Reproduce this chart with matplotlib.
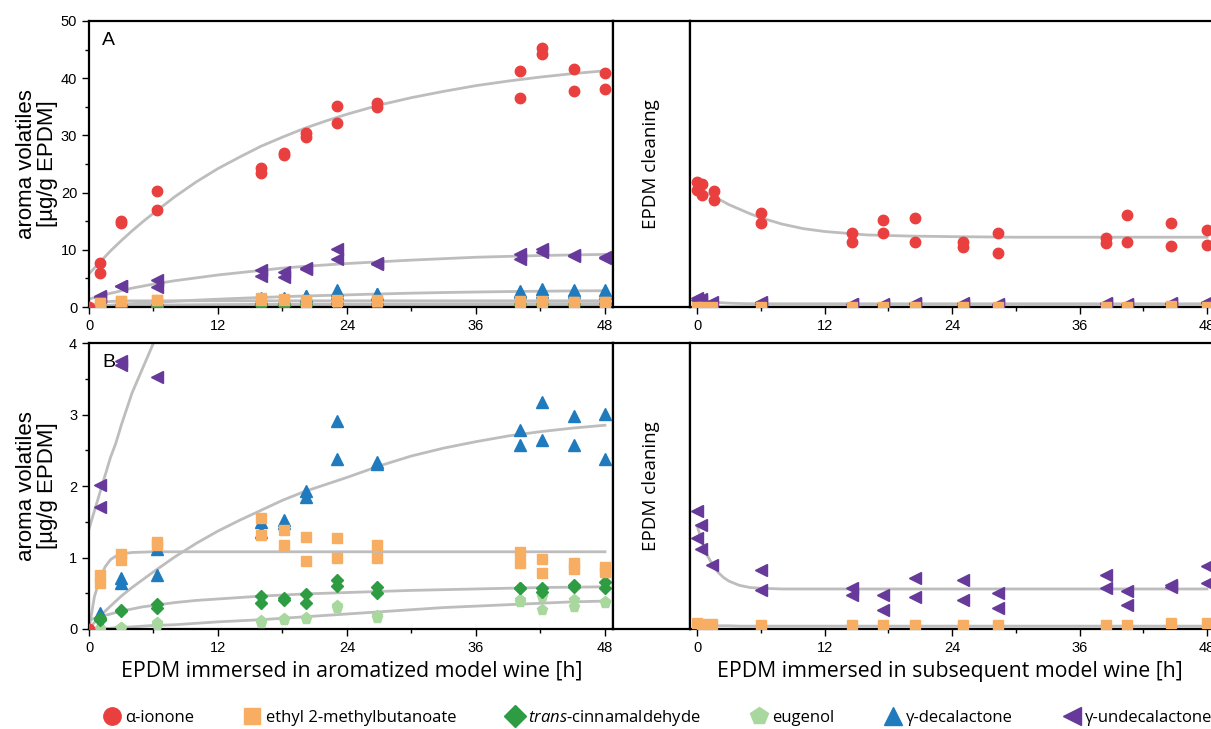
import numpy as np
import matplotlib
matplotlib.use("Agg")
from matplotlib import pyplot as plt
from matplotlib.ticker import MultipleLocator

plt.rcParams['font.family'] = ['Open Sans', 'DejaVu Sans']
plt.rcParams['mathtext.fontset'] = 'custom'
plt.rcParams['mathtext.it'] = 'Open Sans:italic'
plt.rcParams['mathtext.rm'] = 'Open Sans'

TICKFONT = ['Liberation Sans Narrow', 'Liberation Sans', 'DejaVu Sans']
GREY = '#BDBDBD'

# ---- uptake phase (EPDM in aromatized model wine) ----
t_up = [1, 1, 3, 3, 6.3, 6.3, 16, 16, 18.1, 18.1, 20.2, 20.2,
        23.1, 23.1, 26.8, 26.8, 40.1, 40.1, 42.1, 42.1, 45.1, 45.1, 48, 48]

ionone_up_t = [0] + t_up
ionone_up = [0, 7.7, 6.0, 15.0, 14.7, 20.3, 16.9, 24.3, 23.5, 27.0, 26.5, 30.5, 29.7,
             35.2, 32.2, 35.6, 34.9, 41.3, 36.5, 45.2, 44.2, 41.6, 37.8, 40.9, 38.1]
ethyl_up = [0.75, 0.64, 1.05, 0.97, 1.22, 1.18, 1.55, 1.31, 1.39, 1.17, 1.28, 0.95,
            1.27, 1.00, 1.17, 0.99, 1.07, 0.93, 0.98, 0.79, 0.92, 0.84, 0.87, 0.80]
cinnam_up = [0.16, 0.12, 0.27, 0.25, 0.35, 0.29, 0.46, 0.37, 0.43, 0.41, 0.49, 0.37,
             0.69, 0.60, 0.59, 0.50, 0.58, 0.57, 0.58, 0.52, 0.61, 0.59, 0.66, 0.57]
eugenol_up = [0.0, 0.0, 0.02, 0.01, 0.08, 0.06, 0.11, 0.09, 0.14, 0.13, 0.16, 0.14,
              0.32, 0.30, 0.18, 0.15, 0.41, 0.38, 0.45, 0.27, 0.40, 0.31, 0.38, 0.36]
decal_up = [0.22, 0.06, 0.71, 0.64, 1.12, 0.75, 1.50, 1.36, 1.52, 1.48, 1.93, 1.85,
            2.91, 2.38, 2.34, 2.31, 2.78, 2.57, 3.18, 2.65, 2.98, 2.57, 3.01, 2.38]
undecal_up = [2.01, 1.70, 3.69, 3.75, 4.7, 3.52, 6.4, 5.5, 6.1, 5.2, 6.8, 6.6,
              10.2, 8.4, 7.7, 7.6, 9.3, 8.4, 10.2, 9.6, 9.0, 9.1, 8.7, 8.6]

# fitted curves, uptake
fit_t = [0, 0.5, 1, 1.5, 2, 2.5, 3, 4, 5, 6, 8, 10, 12, 14, 16, 18, 20, 22, 24,
         27, 30, 33, 36, 39, 42, 45, 48]
ionone_fit = [5.8, 6.8, 7.8, 8.8, 9.8, 10.7, 11.6, 13.3, 14.9, 16.4, 19.3, 21.9,
              24.2, 26.2, 28.1, 29.7, 31.2, 32.5, 33.7, 35.3, 36.6, 37.7, 38.7,
              39.5, 40.2, 40.8, 41.3]
undecal_fit = [1.4, 1.65, 1.9, 2.15, 2.4, 2.6, 2.85, 3.3, 3.65, 4.0, 4.6, 5.1,
               5.6, 6.0, 6.4, 6.8, 7.1, 7.35, 7.6, 7.9, 8.2, 8.45, 8.7, 8.85,
               9.0, 9.1, 9.2]
decal_fit = [0.0, 0.09, 0.17, 0.25, 0.32, 0.39, 0.46, 0.58, 0.69, 0.80, 1.01, 1.20,
             1.37, 1.52, 1.66, 1.80, 1.92, 2.02, 2.12, 2.28, 2.42, 2.53, 2.62,
             2.70, 2.76, 2.81, 2.85]
cinnam_fit = [0.12, 0.15, 0.17, 0.19, 0.21, 0.23, 0.25, 0.28, 0.31, 0.33, 0.37, 0.40,
              0.42, 0.44, 0.46, 0.475, 0.49, 0.50, 0.51, 0.525, 0.54, 0.55, 0.56,
              0.57, 0.58, 0.585, 0.59]
eugenol_fit = [0.0, 0.0, 0.01, 0.01, 0.01, 0.02, 0.02, 0.03, 0.04, 0.05, 0.06, 0.08,
               0.10, 0.115, 0.13, 0.15, 0.17, 0.19, 0.21, 0.24, 0.27, 0.30, 0.32,
               0.34, 0.36, 0.38, 0.39]
ethyl_fit_t = [0, 0.5, 1, 1.5, 2, 2.5, 3, 4, 6, 12, 24, 36, 48]
ethyl_fit = [0.0, 0.45, 0.70, 0.87, 0.97, 1.02, 1.05, 1.07, 1.08, 1.08, 1.08, 1.08, 1.08]

# ---- release phase (EPDM in subsequent model wine) ----
ionone_rel_t = [0, 0.5, 0, 0.5, 1.6, 1.6, 6, 6, 14.6, 14.6, 17.5, 17.5, 20.5, 20.5,
                25, 25, 28.3, 28.3, 38.5, 38.5, 40.5, 40.5, 44.6, 44.6, 48, 48]
ionone_rel = [21.8, 21.5, 20.4, 19.6, 20.3, 18.7, 16.4, 14.6, 13.0, 11.4, 15.2, 13.0,
              15.5, 11.4, 11.3, 10.5, 13.0, 9.4, 12.0, 11.2, 16.0, 11.4, 14.6, 10.7,
              13.5, 10.9]
undecal_rel_t = [0, 0.35, 0, 0.4, 1.4, 6, 6, 14.6, 14.6, 17.5, 17.5, 20.5, 20.5,
                 25, 25, 28.3, 28.3, 38.5, 38.5, 40.5, 40.5, 44.6, 44.6, 48, 48]
undecal_rel = [1.65, 1.45, 1.27, 1.12, 0.89, 0.82, 0.54, 0.58, 0.48, 0.48, 0.27,
               0.71, 0.45, 0.69, 0.41, 0.51, 0.29, 0.75, 0.57, 0.53, 0.34, 0.62,
               0.59, 0.88, 0.64]
ethyl_rel_t = [0, 0.5, 1.4, 6, 14.6, 17.5, 20.5, 25, 28.3, 38.5, 40.5, 44.6, 48]
ethyl_rel = [0.08, 0.07, 0.065, 0.05, 0.05, 0.05, 0.05, 0.05, 0.05, 0.05, 0.05,
             0.09, 0.08]

rel_fit_t = [0, 0.5, 1, 1.5, 2, 2.5, 3, 4, 5, 6, 8, 10, 12, 16, 20, 24, 30, 36, 42, 48]
ionone_rel_fit = [20.7, 20.2, 19.8, 19.4, 18.9, 18.4, 17.9, 17.1, 16.3, 15.6, 14.5,
                  13.7, 13.2, 12.6, 12.4, 12.3, 12.2, 12.2, 12.2, 12.2]
undecal_rel_fit = [1.45, 1.2, 1.02, 0.89, 0.79, 0.72, 0.67, 0.61, 0.58, 0.57, 0.56,
                   0.56, 0.56, 0.56, 0.56, 0.56, 0.56, 0.56, 0.56, 0.56]
ethyl_rel_fit = [0.05, 0.05, 0.05, 0.05, 0.045, 0.045, 0.045, 0.04, 0.04, 0.04, 0.04,
                 0.04, 0.04, 0.04, 0.04, 0.04, 0.04, 0.04, 0.04, 0.04]

names = ['\u03b1-ionone', 'ethyl 2-methylbutanoate', r'$\it{trans}$-cinnamaldehyde',
         'eugenol', '\u03b3-decalactone', '\u03b3-undecalactone']
colors = ['#E9403F', '#F8AE62', '#2E9C42', '#A9D89F', '#1F7BBE', '#67399A']
markers = ['o', 's', 'D', 'p', '^', '<']
msizes = [7.5, 7, 6.5, 8, 8.5, 8.5]
zorders = [8, 7, 6, 5, 4, 3]

W, H = 1211, 729
fig = plt.figure(figsize=(W / 100, H / 100), dpi=100)


def box(l, r, b, t):
    return [l / W, 1 - b / H, (r - l) / W, (b - t) / H]


def style(ax, left_ticks):
    for s in ax.spines.values():
        s.set_linewidth(1.6)
    ax.tick_params(which='both', direction='out', width=1.0, labelsize=10.5)
    ax.tick_params(which='major', length=5)
    ax.tick_params(which='minor', length=3)
    ax.xaxis.set_major_locator(MultipleLocator(12))
    ax.xaxis.set_minor_locator(MultipleLocator(6))
    for lab in ax.get_xticklabels() + ax.get_yticklabels():
        lab.set_family(TICKFONT)
    if not left_ticks:
        ax.tick_params(axis='y', which='both', left=False, labelleft=False)


def draw_up(ax):
    ax.plot(fit_t, ionone_fit, color=GREY, lw=2, zorder=1)
    ax.plot(fit_t, undecal_fit, color=GREY, lw=2, zorder=1)
    ax.plot(fit_t, decal_fit, color=GREY, lw=2, zorder=1)
    ax.plot(fit_t, cinnam_fit, color=GREY, lw=2, zorder=1)
    ax.plot(fit_t, eugenol_fit, color=GREY, lw=2, zorder=1)
    ax.plot(ethyl_fit_t, ethyl_fit, color=GREY, lw=2, zorder=1)
    series = [(ionone_up_t, ionone_up), (t_up, ethyl_up), (t_up, cinnam_up),
              (t_up, eugenol_up), (t_up, decal_up), (t_up, undecal_up)]
    for i, (tx, vy) in enumerate(series):
        ax.plot(tx, vy, ls='none', marker=markers[i], ms=msizes[i], color=colors[i],
                mec=colors[i], zorder=zorders[i])


def draw_rel(ax):
    ax.plot(rel_fit_t, ionone_rel_fit, color=GREY, lw=2, zorder=1)
    ax.plot(rel_fit_t, undecal_rel_fit, color=GREY, lw=2, zorder=1)
    ax.plot(rel_fit_t, ethyl_rel_fit, color=GREY, lw=2, zorder=1)
    series = [(0, ionone_rel_t, ionone_rel), (1, ethyl_rel_t, ethyl_rel),
              (5, undecal_rel_t, undecal_rel)]
    for i, tx, vy in series:
        ax.plot(tx, vy, ls='none', marker=markers[i], ms=msizes[i], color=colors[i],
                mec=colors[i], zorder=zorders[i])


rows = [(21, 307, 50, 10, 5, 'A'), (343, 629, 4, 1, 0.5, 'B')]
for top, bot, ymax, major, minor, letter in rows:
    axl = fig.add_axes(box(89, 613, bot, top))
    draw_up(axl)
    axl.set_xlim(0, 48.75)
    axl.set_ylim(0, ymax)
    axl.yaxis.set_major_locator(MultipleLocator(major))
    axl.yaxis.set_minor_locator(MultipleLocator(minor))
    style(axl, True)
    axl.text(0.025, 0.96, letter, transform=axl.transAxes, fontsize=14,
             family=TICKFONT, va='top', ha='left')

    axm = fig.add_axes(box(613, 690, bot, top))
    axm.set_xticks([])
    axm.set_yticks([])
    for s in axm.spines.values():
        s.set_linewidth(1.6)
    axm.text(0.5, 0.5, 'EPDM cleaning', rotation=90, ha='center', va='center',
             fontsize=13.5, transform=axm.transAxes)

    axr = fig.add_axes(box(690, 1215, bot, top))
    draw_rel(axr)
    axr.set_xlim(-0.66, 48.75)
    axr.set_ylim(0, ymax)
    style(axr, False)

    fig.text(37 / W, 1 - (top + bot) / 2 / H, 'aroma volatiles\n[\u00b5g/g EPDM]',
             rotation=90, ha='center', va='center', fontsize=16,
             family=['Liberation Sans', 'DejaVu Sans'], linespacing=1.05)

fig.text(352 / W, 1 - 671 / H, 'EPDM immersed in aromatized model wine [h]',
         ha='center', va='center', fontsize=15.3)
fig.text(950 / W, 1 - 671 / H, 'EPDM immersed in subsequent model wine [h]',
         ha='center', va='center', fontsize=15.3)

handles = [plt.Line2D([], [], ls='none', marker=markers[i], ms=msizes[i] + 5,
                      color=colors[i]) for i in range(6)]
fig.legend(handles, names, loc='center', bbox_to_anchor=(657 / W, 1 - 718 / H),
           ncol=6, frameon=False, fontsize=12, handletextpad=0.2,
           columnspacing=2.9, handlelength=1.2)

fig.savefig('out.png', dpi=100)
